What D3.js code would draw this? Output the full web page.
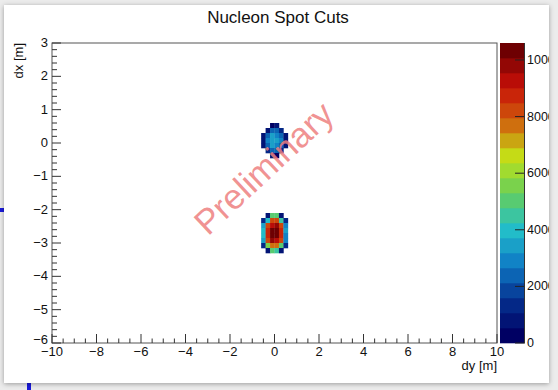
<!DOCTYPE html>
<meta charset="utf-8">
<script src="https://cdn.jsdelivr.net/npm/d3@7"></script>
<style>
	body{margin:0;background:#ececec;font-family:"Liberation Sans",Arial,sans-serif;}
	svg text{fill:#111;}
</style>
<div id="chart"></div>
<script>
// axis ranges and ticks
var xRange = [-10, 10]
var yRange = [-6, 3]
var xTicks = [-10, -8, -6, -4, -2, 0, 2, 4, 6, 8, 10]
var yTicks = [3, 2, 1, 0, -1, -2, -3, -4, -5, -6]
var zTicks = [0, 2000, 4000, 6000, 8000, 10000]
var zMax = 10600
var nContours = 20
var binW = 0.2
var binH = 0.15

// ROOT kRainBow palette stops
var stopPos = [0, 0.125, 0.25, 0.375, 0.5, 0.625, 0.75, 0.875, 1]
var stopCol = ["rgb(0,0,99)", "rgb(5,48,142)", "rgb(15,124,198)", "rgb(35,192,201)",
	"rgb(102,206,90)", "rgb(196,226,22)", "rgb(208,97,13)", "rgb(199,16,8)", "rgb(110,0,2)"]

// upper spot: bins starting at dy=-0.6, rows from dx=0.6 downwards
var spot1Origin = [-0.6, 0.6]
var spot1 = [
	[0, 0, 500, 600, 0, 0],
	[0, 1000, 2300, 2400, 1100, 0],
	[800, 2500, 3200, 3100, 2600, 900],
	[900, 2700, 3600, 3400, 2800, 1000],
	[800, 2600, 3300, 3100, 2600, 900],
	[0, 1200, 2400, 2300, 1300, 0],
	[0, 0, 600, 500, 0, 0]
]
// lower spot: bins starting at dy=-0.6, rows from dx=-2.1 downwards
var spot2Origin = [-0.6, -2.1]
var spot2 = [
	[0, 900, 5000, 5200, 900, 0],
	[1200, 4200, 8000, 8300, 4500, 1300],
	[3500, 8200, 9500, 9700, 8400, 3000],
	[4000, 8800, 10300, 10400, 8900, 3200],
	[4000, 8700, 10400, 10300, 8700, 3100],
	[3600, 8200, 9600, 9500, 8100, 2800],
	[1200, 5500, 7800, 7500, 5200, 1100],
	[0, 800, 4800, 4500, 800, 0]
]

var W = 558, H = 390
var fL = 52, fR = 497, fT = 43, fB = 343

var svg = d3.select("#chart").append("svg").attr("width", W).attr("height", H)

var defs = svg.append("defs")
var f = defs.append("filter").attr("id", "shadow").attr("x", "-5%").attr("y", "-5%").attr("width", "110%").attr("height", "110%")
f.append("feDropShadow").attr("dx", 0).attr("dy", 1).attr("stdDeviation", 2.5).attr("flood-color", "#000").attr("flood-opacity", 0.35)
defs.append("clipPath").attr("id", "cardclip").append("rect").attr("x", 4).attr("y", 5).attr("width", 545).attr("height", 378)

// screenshot leftovers
svg.append("rect").attr("x", 0).attr("y", 208).attr("width", 6).attr("height", 4).attr("fill", "#1a1adb")
svg.append("rect").attr("x", 27).attr("y", 383).attr("width", 4).attr("height", 7).attr("fill", "#1a1adb")

svg.append("rect").attr("x", 4).attr("y", 5).attr("width", 545).attr("height", 378)
	.attr("fill", "#fff").attr("filter", "url(#shadow)")

var g = svg.append("g").attr("clip-path", "url(#cardclip)")

var x = d3.scaleLinear().domain(xRange).range([fL, fR])
var y = d3.scaleLinear().domain(yRange).range([fB, fT])
var pal = d3.scaleLinear().domain(stopPos).range(stopCol).interpolate(d3.interpolateRgb)
function bandColor(i){ return pal(i / (nContours - 1)) }
function zColor(v){
	var i = Math.floor(v / zMax * nContours)
	if(i > nContours - 1) i = nContours - 1
	return bandColor(i)
}

// title
g.append("text").attr("x", 278).attr("y", 23).attr("text-anchor", "middle")
	.style("font-size", "17px").text("Nucleon Spot Cuts")

// cells
function drawSpot(data, origin){
	var cells = []
	data.forEach(function(row, r){
		row.forEach(function(v, c){
			if(v > 0) cells.push({dy: origin[0] + c * binW, dx: origin[1] - r * binH, v: v})
		})
	})
	g.append("g").selectAll("rect").data(cells).enter().append("rect")
		.attr("x", function(d){ return x(d.dy) })
		.attr("y", function(d){ return y(d.dx) })
		.attr("width", function(d){ return x(d.dy + binW) - x(d.dy) + 0.3 })
		.attr("height", function(d){ return y(d.dx - binH) - y(d.dx) + 0.3 })
		.attr("fill", function(d){ return zColor(d.v) })
}
drawSpot(spot1, spot1Origin)
drawSpot(spot2, spot2Origin)

// frame
g.append("rect").attr("x", fL).attr("y", fT).attr("width", fR - fL).attr("height", fB - fT)
	.attr("fill", "none").attr("stroke", "#555").attr("stroke-width", 1)

// x axis ticks (inward)
var xMinor = d3.range(-10, 10.001, 0.5)
g.append("g").selectAll("line").data(xMinor).enter().append("line")
	.attr("x1", function(d){ return x(d) }).attr("x2", function(d){ return x(d) })
	.attr("y1", fB).attr("y2", function(d){ return Math.abs(Math.round(d) - d) < 1e-6 && Math.round(d) % 2 == 0 ? fB - 9 : fB - 4.5 })
	.attr("stroke", "#333")
g.append("g").selectAll("text").data(xTicks).enter().append("text")
	.attr("x", function(d){ return x(d) }).attr("y", fB + 13)
	.attr("text-anchor", "middle").style("font-size", "13px")
	.text(function(d){ return d < 0 ? "\u2212" + (-d) : d })

// y axis ticks
var yMinor = d3.range(-6, 3.001, 0.2)
g.append("g").selectAll("line").data(yMinor).enter().append("line")
	.attr("y1", function(d){ return y(d) }).attr("y2", function(d){ return y(d) })
	.attr("x1", fL).attr("x2", function(d){ return Math.abs(d - Math.round(d)) < 1e-6 ? fL + 9 : fL + 5 })
	.attr("stroke", "#333")
g.append("g").selectAll("text").data(yTicks).enter().append("text")
	.attr("x", fL - 4).attr("y", function(d){ return y(d) + (d == -6 ? 1 : 4) })
	.attr("text-anchor", "end").style("font-size", "13px")
	.text(function(d){ return d < 0 ? "\u2212" + (-d) : d })

// axis titles
g.append("text").attr("x", fR).attr("y", 370).attr("text-anchor", "end")
	.style("font-size", "13px").text("dy [m]")
g.append("text").attr("transform", "translate(23," + fT + ") rotate(-90)").attr("text-anchor", "end")
	.style("font-size", "13px").text("dx [m]")

// colour bar
var cbX = 500, cbW = 24
var z = d3.scaleLinear().domain([0, zMax]).range([fB, fT])
var bands = d3.range(nContours)
g.append("g").selectAll("rect").data(bands).enter().append("rect")
	.attr("x", cbX).attr("width", cbW)
	.attr("y", function(i){ return z((i + 1) * zMax / nContours) })
	.attr("height", function(i){ return z(i * zMax / nContours) - z((i + 1) * zMax / nContours) + 0.3 })
	.attr("fill", function(i){ return bandColor(i) })
g.append("g").selectAll("line").data(zTicks).enter().append("line")
	.attr("x1", cbX + cbW + 1).attr("x2", cbX + cbW - 9)
	.attr("y1", function(d){ return z(d) }).attr("y2", function(d){ return z(d) })
	.attr("stroke", "#222")
g.append("line").attr("x1", cbX + cbW + 0.5).attr("x2", cbX + cbW + 0.5).attr("y1", fT).attr("y2", fB).attr("stroke", "#333")
g.append("g").selectAll("text").data(zTicks).enter().append("text")
	.attr("x", cbX + cbW + 3).attr("y", function(d){ return z(d) + 4 })
	.style("font-size", "12.5px").text(function(d){ return d })

// watermark
g.append("text").attr("transform", "translate(272,177) rotate(-43)").attr("text-anchor", "middle")
	.style("font-size", "35px").style("fill", "#ee7f7f").style("fill-opacity", 0.85)
	.text("Preliminary")
</script>
